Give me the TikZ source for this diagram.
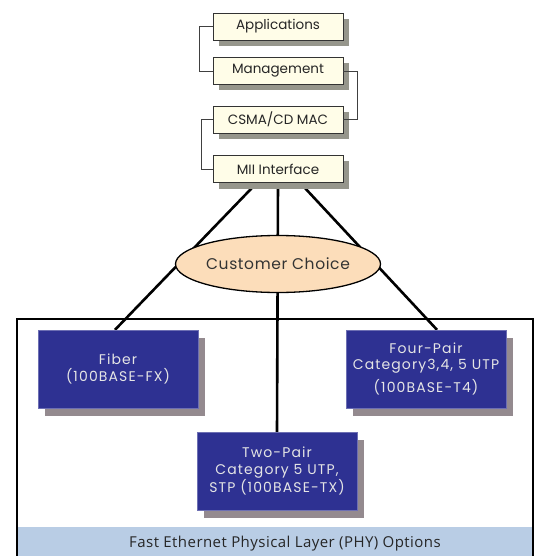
\documentclass[tikz,border=0pt]{standalone}
\usepackage{fontspec}
\setmainfont{Poppins}
\newfontfamily\bandfont{Open Sans}
\usetikzlibrary{shapes.geometric,shadows,calc,backgrounds}
\definecolor{cream}{RGB}{255,253,232}
\definecolor{creamshadow}{RGB}{150,150,140}
\definecolor{phyblue}{RGB}{46,49,146}
\definecolor{physhadow}{RGB}{148,138,143}
\definecolor{peach}{RGB}{252,221,186}
\definecolor{bandblue}{RGB}{185,205,229}
\tikzset{
  layerbox/.style={draw=black!80,fill=cream,minimum width=130pt,minimum height=27pt,
    inner sep=0pt,font=\fontsize{13.5}{15}\selectfont,text=black!85,
    drop shadow={shadow xshift=6pt,shadow yshift=-6pt,fill=creamshadow,opacity=1}},
  phybox/.style={draw=phyblue!70!white,fill=phyblue,minimum width=160pt,minimum height=78pt,
    inner sep=0pt,align=center,text=white!90!black,
    font=\fontsize{14}{16.5}\selectfont\addfontfeature{LetterSpace=8},
    drop shadow={shadow xshift=7pt,shadow yshift=-8pt,fill=physhadow,opacity=1}},
  bracket/.style={draw=black!75,line width=0.8pt},
  link/.style={draw=black,line width=2.6pt}
}
\begin{document}
\begin{tikzpicture}[x=1pt,y=-1pt]
  \useasboundingbox (0,0) rectangle (538,556);
  % protocol stack
  \node[layerbox] (app) at (278,26.5) {Applications};
  \node[layerbox] (mgmt) at (278,71) {Management};
  \node[layerbox] (mac) at (278,119.5) {CSMA/CD MAC};
  \node[layerbox] (mii) at (278,169) {MII Interface};
  \draw[bracket] (app.west) -- ++(-13,0) |- (mgmt.west);
  \draw[bracket] (mgmt.east) -- ++(14,0) |- (mac.east);
  \draw[bracket] (mac.west) -- ++(-11,0) |- (mii.west);
  % choice
  \node[ellipse,draw=black,line width=1.3pt,fill=peach,minimum width=205pt,minimum height=57pt,
    inner sep=0pt,text=black!80,font=\fontsize{15.5}{17}\selectfont\addfontfeature{LetterSpace=4}]
    (choice) at (278,264) {Customer Choice};
  % PHY options
  \node[phybox] (fiber) at (118,369) {Fiber\\(100BASE-FX)};
  \node[phybox] (fourpair) at (426,369) {Four-Pair\\Category\hspace{1pt}3,4, 5 UTP\\[5pt](100BASE-T4)};
  \node[phybox] (twopair) at (277,471) {Two-Pair\\Category 5 UTP,\\STP (100BASE-TX)};
  \begin{scope}[on background layer]
    \fill[bandblue] (17,527) rectangle (533,556);
    \draw[line width=1.3pt] (17,558) -- (17,319) -- (533,319) -- (533,558);
    \path[link] ($(mii.south)+(-21,0)$) -- ($(fiber.north)+(-3,0)$);
    \path[link] (mii.south) -- (twopair.north);
    \path[link] ($(mii.south)+(22,0)$) -- ($(fourpair.north)+(11,0)$);
  \end{scope}
  \node[text=black!85,font=\bandfont\fontsize{15}{17}\selectfont\addfontfeature{LetterSpace=3}]
    (band) at (285,544) {Fast Ethernet Physical Layer (PHY) Options};
\end{tikzpicture}
\end{document}
